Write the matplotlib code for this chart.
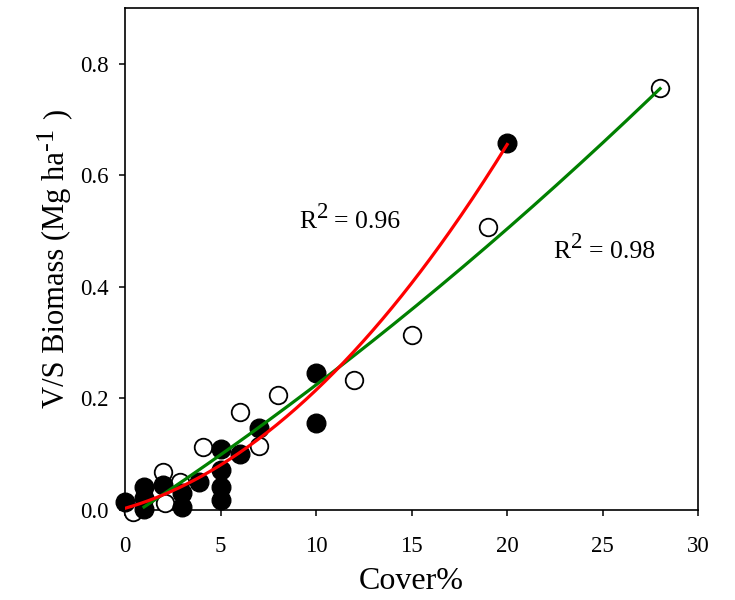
import numpy as np
import matplotlib
matplotlib.use("Agg")
import matplotlib.pyplot as plt
from matplotlib.transforms import IdentityTransform

plt.rcParams['font.family'] = ['Liberation Serif', 'DejaVu Serif']

# open circles (green fit)
open_x = [0.4, 2.0, 2.1, 2.9, 4.1, 6.0, 7.0, 8.0, 12.0, 15.0, 19.0, 28.0]
open_y = [-0.003, 0.068, 0.012, 0.05, 0.113, 0.176, 0.115, 0.206, 0.233, 0.313, 0.507, 0.756]

# filled circles (red fit)
filled_x = [0.0, 1.0, 1.0, 1.0, 2.0, 3.0, 3.0, 3.9, 5.0, 5.0, 5.0, 5.0,
            6.0, 7.0, 10.0, 10.0, 20.0]
filled_y = [0.014, 0.042, 0.022, 0.002, 0.045, 0.03, 0.005, 0.05, 0.11, 0.072,
            0.042, 0.018, 0.1, 0.147, 0.245, 0.156, 0.658]

# fitted curves, y = a + b*x + c*x^2
green_coef = [-0.017, 0.0222, 0.000192]
green_range = [1.0, 28.0]
red_coef = [0.003, 0.0098, 0.00114]
red_range = [0.0, 20.0]

# R^2 labels: value text and where the label starts (data coords, baseline)
r2_values = ["0.96", "0.98"]
r2_pos = [(9.1, 0.505), (22.4, 0.452)]

ID = IdentityTransform()


def chain(fig, x0, y0, pieces, rotation=0, center=False):
    """Write text pieces one after another (pixels). pieces: (text, size, rise, gap)"""
    renderer = fig.canvas.get_renderer()
    texts = []
    for s, size, rise, gap in pieces:
        t = fig.text(0, 0, s, fontsize=size, transform=ID, ha='left',
                     va='baseline', rotation=rotation, rotation_mode='anchor')
        texts.append((t, rise, gap))
    lengths = []
    for t, rise, gap in texts:
        ext = t.get_window_extent(renderer)
        lengths.append((ext.width if rotation == 0 else ext.height) + gap)
    pos = -sum(lengths) / 2.0 if center else 0.0
    for (t, rise, gap), ln in zip(texts, lengths):
        if rotation == 0:
            t.set_position((x0 + pos, y0 + rise))
        else:
            t.set_position((x0 - rise, y0 + pos))
        pos += ln


fig = plt.figure(figsize=(7.35, 6.0), dpi=100)
ax = fig.add_axes([0.170, 0.150, 0.780, 0.837])

ax.scatter(open_x, open_y, s=160, facecolor='white', edgecolor='black',
           linewidth=1.3, zorder=3, clip_on=False)
ax.scatter(filled_x, filled_y, s=180, facecolor='black', edgecolor='black',
           linewidth=1.0, zorder=4, clip_on=False)

xg = np.linspace(green_range[0], green_range[1], 200)
ax.plot(xg, green_coef[0] + green_coef[1] * xg + green_coef[2] * xg ** 2,
        color='#008000', lw=2.3, zorder=5)
xr = np.linspace(red_range[0], red_range[1], 200)
ax.plot(xr, red_coef[0] + red_coef[1] * xr + red_coef[2] * xr ** 2,
        color='#ff0000', lw=2.3, zorder=6)

ax.set_xlim(0, 30)
ax.set_ylim(0, 0.9)
ax.set_xticks([0, 5, 10, 15, 20, 25, 30])
ax.set_yticks([0.0, 0.2, 0.4, 0.6, 0.8])
ax.set_yticklabels(["0.0", "0.2", "0.4", "0.6", "0.8"])
ax.tick_params(direction='out', length=4, width=1.1, labelsize=16.5)
ax.tick_params(axis='x', pad=15)
ax.tick_params(axis='y', pad=8)
for sp in ax.spines.values():
    sp.set_linewidth(1.2)

ax.set_xlabel("Cover%", fontsize=23, labelpad=7)

fig.canvas.draw()

# R^2 annotations with a large raised 2
for val, (px, py) in zip(r2_values, r2_pos):
    x0, y0 = ax.transData.transform((px, py))
    chain(fig, x0, y0, [("R", 18.5, 0, 1), ("2", 16.5, 10, 6),
                        ("= " + val, 18.5, 0, 0)])

# y axis label with a large raised -1
ax_mid = ax.transAxes.transform((0, 0.5))[1]
chain(fig, 64, ax_mid, [("V/S Biomass (Mg ha", 22, 0, 2),
                        ("-1", 19, 11, 8), (")", 22, 0, 0)],
      rotation=90, center=True)

fig.savefig("out.png", dpi=100)
